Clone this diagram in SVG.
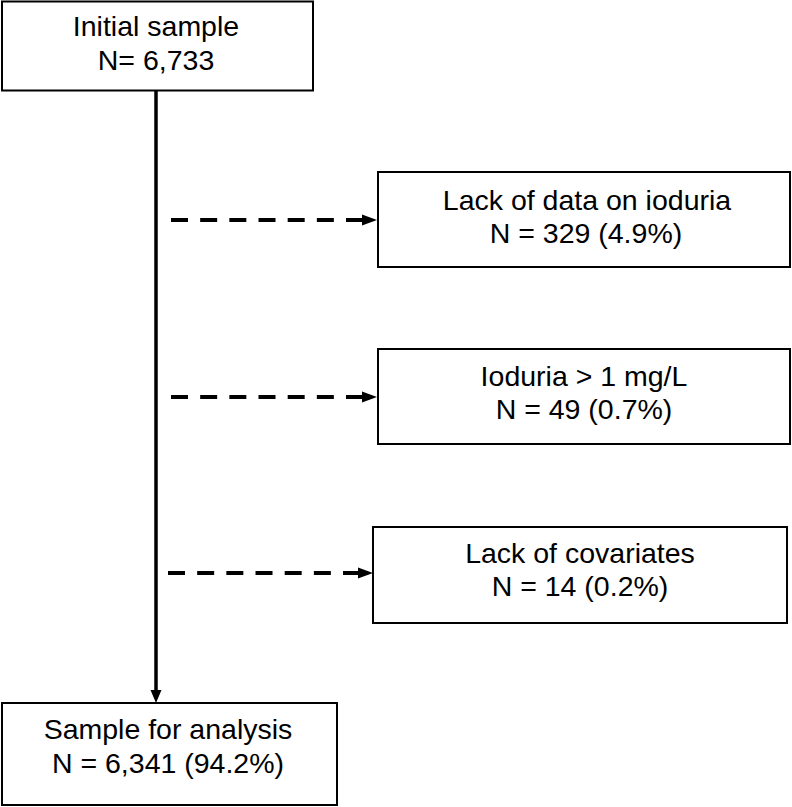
<svg xmlns="http://www.w3.org/2000/svg" width="792" height="807" viewBox="0 0 792 807">
<style>
.box{fill:#fff;stroke:#000;stroke-width:2}
.t{font-family:"Liberation Sans",Arial,sans-serif;font-size:28.5px;fill:#000;text-anchor:middle}
.main{stroke:#000;stroke-width:3.5;fill:none}
.dash{stroke:#000;stroke-width:4;fill:none;stroke-dasharray:17 12.17}
.head{fill:#000}
</style>
<rect width="792" height="807" fill="#fff"/>
<g id="connectors">
<line class="main" x1="156" y1="90" x2="156" y2="691"/>
<polygon class="head" points="150.5,690 161.5,690 156,703"/>
<line class="dash" x1="171" y1="220" x2="363" y2="220"/>
<polygon class="head" points="362,214.5 362,225.5 377,220"/>
<line class="dash" x1="171" y1="397" x2="363" y2="397"/>
<polygon class="head" points="362,391.5 362,402.5 377,397"/>
<line class="dash" x1="168" y1="573" x2="360" y2="573"/>
<polygon class="head" points="358,567.5 358,578.5 373,573"/>
</g>
<g id="initial">
<rect class="box" x="2" y="1.5" width="311" height="89"/>
<text class="t" x="156" y="36">Initial sample</text>
<text class="t" x="156" y="70">N= 6,733</text>
</g>
<g id="lack-data">
<rect class="box" x="378" y="172" width="412" height="95"/>
<text class="t" x="587" y="210">Lack of data on ioduria</text>
<text class="t" x="586" y="243">N = 329 (4.9%)</text>
</g>
<g id="ioduria">
<rect class="box" x="378" y="349" width="412" height="95"/>
<text class="t" x="584" y="386">Ioduria &gt; 1 mg/L</text>
<text class="t" x="584" y="419">N = 49 (0.7%)</text>
</g>
<g id="covariates">
<rect class="box" x="373" y="527" width="414" height="96"/>
<text class="t" x="580" y="563">Lack of covariates</text>
<text class="t" x="580" y="596">N = 14 (0.2%)</text>
</g>
<g id="analysis">
<rect class="box" x="2" y="703" width="335" height="102"/>
<text class="t" x="168" y="739">Sample for analysis</text>
<text class="t" x="168" y="773">N = 6,341 (94.2%)</text>
</g>
</svg>
